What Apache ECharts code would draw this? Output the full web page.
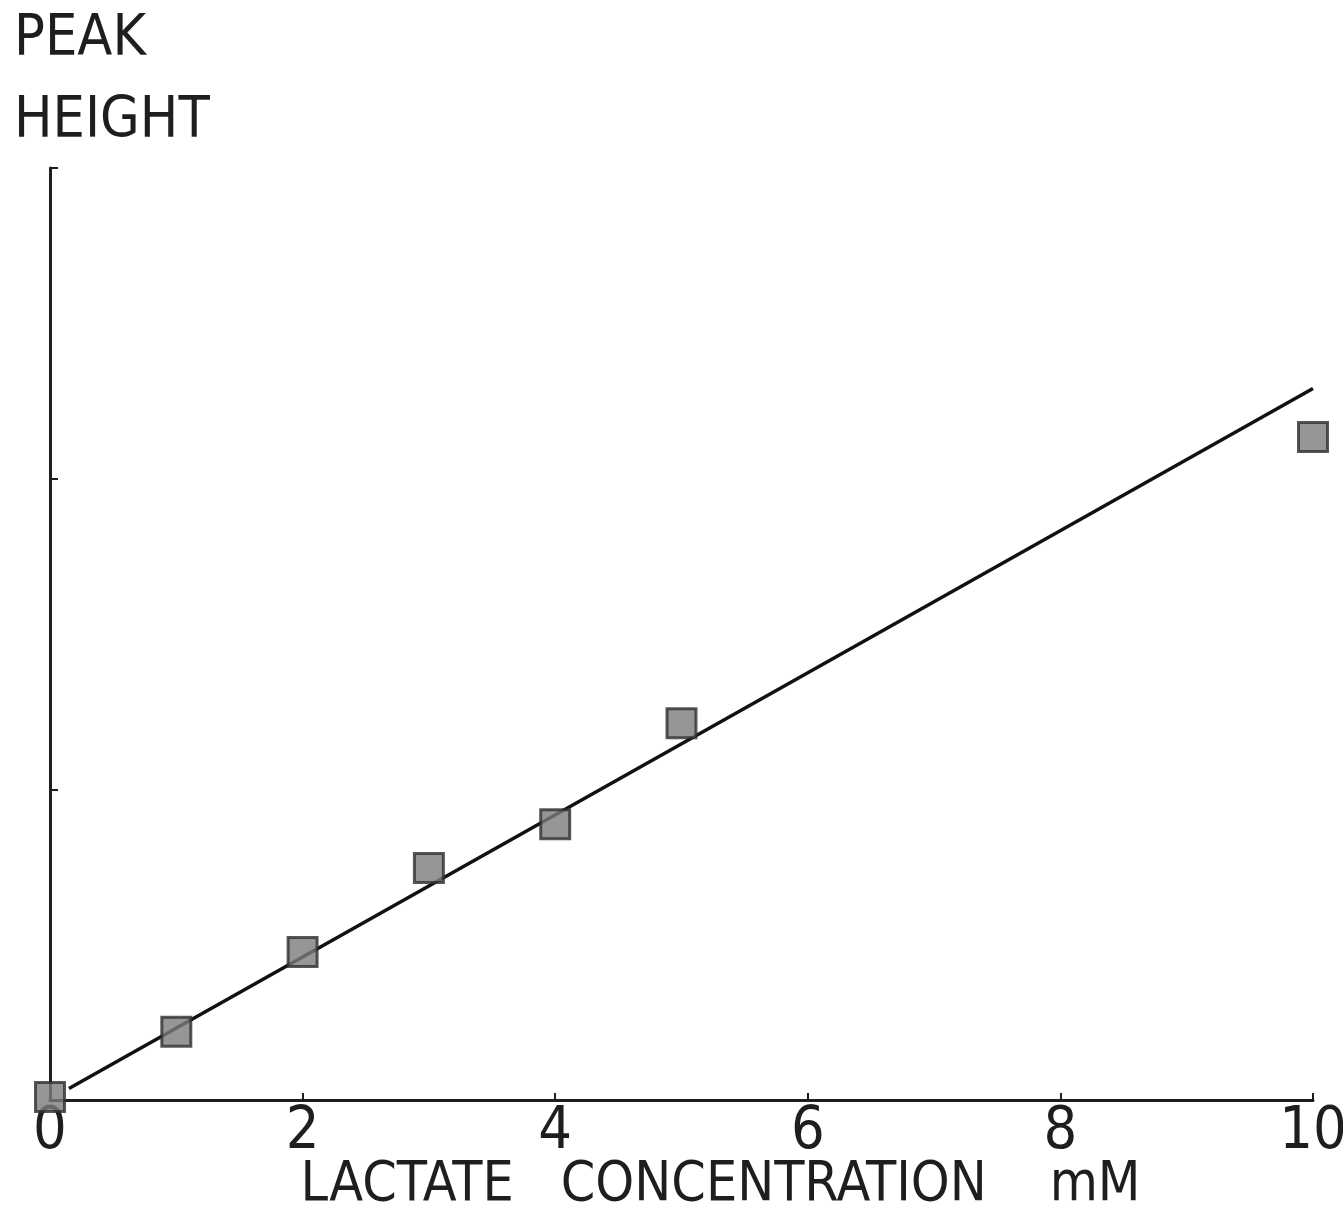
<!DOCTYPE html>
<html>
<head>
<meta charset="utf-8">
<script src="https://cdn.jsdelivr.net/npm/echarts@6/dist/echarts.min.js"></script>
<style>
html,body{margin:0;padding:0;background:#fff;}
#chart{width:1343px;height:1216px;}
</style>
</head>
<body>
<div id="chart"></div>
<script>
// Data
var xTickValues = [0, 2, 4, 6, 8, 10];
var concentration = [0, 1, 2, 3, 4, 5, 10];          // mM
var peakHeight = [0.01, 0.22, 0.476, 0.747, 0.888, 1.213, 2.134]; // arbitrary units
var fitLineX = [0.15, 10];
var fitLineY = [0.037, 2.29];

var FONT = "'Liberation Sans Narrow', 'DejaVu Sans Condensed', 'DejaVu Sans', sans-serif";
var INK = '#1e1e1e';

var points = concentration.map(function (x, i) { return [x, peakHeight[i]]; });
var fit = fitLineX.map(function (x, i) { return [x, fitLineY[i]]; });

var chart = echarts.init(document.getElementById('chart'), null, {renderer: 'canvas'});
chart.setOption({
  backgroundColor: '#ffffff',
  animation: false,
  title: {
    text: 'PEAK\nHEIGHT',
    left: 14,
    top: -1,
    padding: 0,
    textStyle: {
      fontFamily: FONT, fontSize: 57, fontWeight: 'normal', color: INK, lineHeight: 82
    }
  },
  grid: {left: 50, right: 30, top: 168, bottom: 116, containLabel: false, outerBoundsMode: 'none'},
  xAxis: {
    type: 'value',
    min: 0, max: 10, interval: 2,
    name: 'LACTATE   CONCENTRATION    mM',
    nameLocation: 'middle',
    nameGap: 58,
    nameMoveOverlap: false,
    nameTextStyle: {
      fontFamily: FONT, fontSize: 55, color: INK, padding: [0, 0, 0, 78], verticalAlign: 'top'
    },
    axisLine: {show: true, lineStyle: {color: INK, width: 3}},
    axisTick: {show: true, inside: true, length: 7, lineStyle: {color: INK, width: 2}},
    axisLabel: {
      show: true, margin: 3, fontFamily: FONT, fontSize: 59, color: INK,
      formatter: function (v) { return xTickValues.indexOf(v) >= 0 ? String(v) : ''; }
    },
    splitLine: {show: false}
  },
  yAxis: {
    type: 'value',
    min: 0, max: 3, interval: 1,
    axisLine: {show: true, lineStyle: {color: INK, width: 3}},
    axisTick: {show: true, inside: true, length: 8, lineStyle: {color: INK, width: 2}},
    axisLabel: {show: false},
    splitLine: {show: false}
  },
  series: [
    {
      type: 'line',
      data: fit,
      symbol: 'none',
      lineStyle: {color: '#111', width: 3.5},
      z: 2
    },
    {
      type: 'scatter',
      data: points,
      symbol: 'rect',
      symbolSize: 29,
      itemStyle: {color: '#7c7c7c', borderColor: '#2e2e2e', borderWidth: 3},
      z: 3
    }
  ]
});
</script>
</body>
</html>
